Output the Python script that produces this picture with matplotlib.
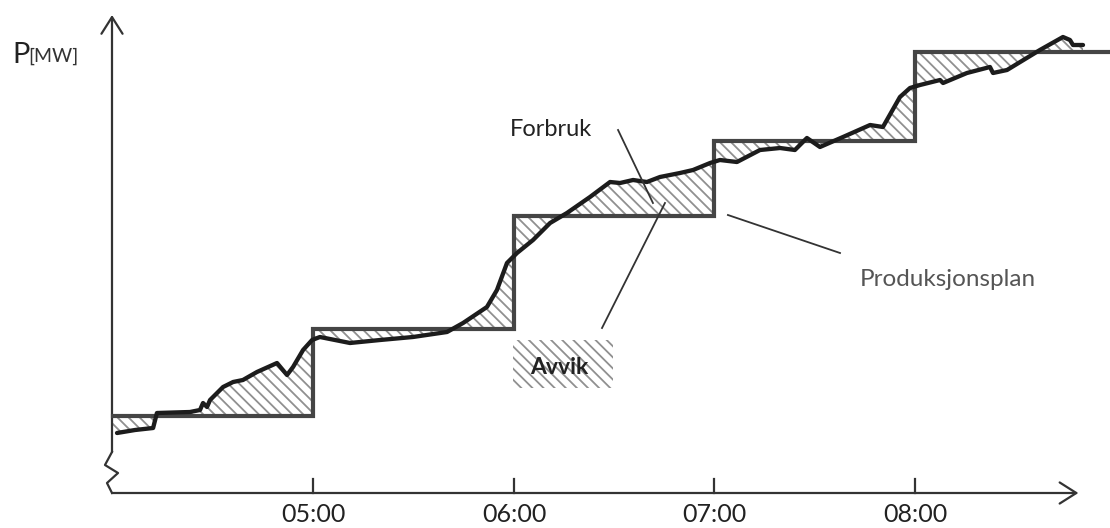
import matplotlib
matplotlib.use('Agg')
import matplotlib.pyplot as plt
import numpy as np
from matplotlib.patches import Rectangle

plt.rcParams['font.family'] = ['Lato', 'DejaVu Sans']

# Forbruk (forbruk i MW, tid i timer)
forbruk_t = [4.020, 4.110, 4.200, 4.219, 4.384, 4.434, 4.449, 4.469, 4.484, 4.549,
             4.599, 4.648, 4.718, 4.818, 4.868, 4.898, 4.948, 4.993, 5.032, 5.182,
             5.332, 5.496, 5.666, 5.746, 5.865, 5.915, 5.965, 6.015, 6.095, 6.180,
             6.264, 6.379, 6.479, 6.529, 6.594, 6.663, 6.728, 6.828, 6.893, 6.978,
             7.027, 7.112, 7.227, 7.327, 7.401, 7.461, 7.526, 7.641, 7.776, 7.840,
             7.925, 7.975, 8.025, 8.125, 8.140, 8.259, 8.374, 8.389, 8.459, 8.623,
             8.738, 8.773, 8.788, 8.838]
forbruk_p = [60, 63, 65, 80, 81, 83, 90, 86, 93, 106,
             111, 113, 121, 130, 118, 126, 143, 153, 156, 150,
             153, 156, 161, 170, 186, 203, 230, 240, 253, 270,
             280, 296, 311, 310, 313, 311, 316, 320, 323, 330,
             333, 331, 343, 345, 343, 355, 346, 356, 368, 366,
             396, 405, 408, 413, 410, 420, 426, 420, 423, 443,
             456, 453, 448, 448]

# Produksjonsplan (trappetrinn)
plan_start = [4.0, 5.0, 6.0, 7.0, 8.0]
plan_level = [77, 164, 277, 352, 441]
plan_end = 8.975

tick_pos = [5, 6, 7, 8]
tick_labels = ["05:00", "06:00", "07:00", "08:00"]

fig = plt.figure(figsize=(11.1, 5.28), dpi=100)
ax = fig.add_axes([0, 0, 1, 1])
ax.set_xlim(3.4364, 8.9726)
ax.set_ylim(-35, 493)
ax.axis('off')

hatch_kw = dict(facecolor='white', edgecolor='#909090', linewidth=0, hatch='\\\\\\')
plt.rcParams['hatch.linewidth'] = 1.3

# skravert avvik mellom forbruk og plan
t = np.array(forbruk_t)
p = np.array(forbruk_p)
edges = plan_start + [plan_end]
for i, lvl in enumerate(plan_level):
    t0, t1 = edges[i], min(edges[i + 1], t[-1])
    inside = (t > t0) & (t < t1)
    xs = np.concatenate([[t0], t[inside], [t1]])
    ys = np.interp(xs, t, p)
    ax.fill_between(xs, ys, lvl, zorder=2, **hatch_kw)

# plan-linje
ax.step(plan_start + [plan_end], plan_level + [plan_level[-1]], where='post',
        color='#454545', lw=3.0, zorder=4, solid_joinstyle='miter')

# forbruk-kurve
ax.plot(t, p, color='#1c1c1c', lw=3.1, zorder=5, solid_joinstyle='round',
        solid_capstyle='round')

# akser
axis_col = '#333333'
x0 = 3.995
ax.annotate("", xy=(x0, 478), xytext=(x0, 41),
            arrowprops=dict(arrowstyle='->,head_length=0.6,head_width=0.38',
                            mutation_scale=20, lw=1.6, color=axis_col,
                            shrinkA=0, shrinkB=0))
ax.annotate("", xy=(8.815, 0), xytext=(x0, 0),
            arrowprops=dict(arrowstyle='->,head_length=0.6,head_width=0.38',
                            mutation_scale=20, lw=1.6, color=axis_col,
                            shrinkA=0, shrinkB=0))
# brudd i y-aksen
zig_dx = np.array([0, -0.035, 0.03, -0.025, 0])
zig_y = [41, 28, 20, 10, 0]
ax.plot(x0 + zig_dx, zig_y, color=axis_col, lw=1.6, zorder=3)

for tp, lab in zip(tick_pos, tick_labels):
    ax.plot([tp, tp], [0, 14], color=axis_col, lw=1.6)
    ax.text(tp, -22, lab, ha='center', va='center', fontsize=18, color='#222222')

ax.text(3.4962, 430, "P", fontsize=21, color='#222222', ha='left', va='baseline')
ax.text(3.576, 431, "[MW]", fontsize=14, color='#333333', ha='left', va='baseline')

# etiketter med ledelinjer
line_kw = dict(color='#333333', lw=1.3, zorder=6)
ax.text(6.185, 363, "Forbruk", fontsize=17, color='#222222', ha='center', va='center')
ax.plot([6.519, 6.693], [363, 290], **line_kw)

ax.plot([6.753, 6.439], [290, 165], **line_kw)
ax.add_patch(Rectangle((5.995, 105), 0.499, 48, zorder=2, **hatch_kw))
ax.text(6.224, 125, "Avvik", fontsize=16.5, fontweight='bold', color='#222222',
        ha='center', va='center', zorder=6)

ax.plot([7.067, 7.626], [278, 240], **line_kw)
ax.text(8.165, 213, "Produksjonsplan", fontsize=17.5, color='#555555',
        ha='center', va='center')

fig.savefig('out.png', dpi=100)
